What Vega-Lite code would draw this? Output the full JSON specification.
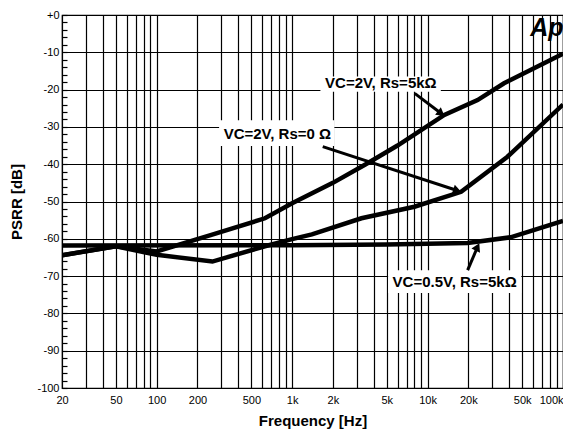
{
  "$schema": "https://vega.github.io/schema/vega-lite/v6.json",
  "width": 501,
  "height": 373,
  "autosize": {"type": "none"},
  "padding": {"left": 62, "top": 15, "right": 0, "bottom": 43},
  "background": "white",
  "config": {
    "font": "Liberation Sans",
    "view": {"stroke": "black", "strokeWidth": 1.2}
  },
  "datasets": {
    "curves": [
      {"series": "VC=2V, Rs=5kΩ", "freq": 20, "db": -64.4},
      {"series": "VC=2V, Rs=5kΩ", "freq": 50, "db": -62},
      {"series": "VC=2V, Rs=5kΩ", "freq": 100, "db": -63.4},
      {"series": "VC=2V, Rs=5kΩ", "freq": 250, "db": -59},
      {"series": "VC=2V, Rs=5kΩ", "freq": 630, "db": -54.5},
      {"series": "VC=2V, Rs=5kΩ", "freq": 1000, "db": -50.5},
      {"series": "VC=2V, Rs=5kΩ", "freq": 2000, "db": -45},
      {"series": "VC=2V, Rs=5kΩ", "freq": 3500, "db": -40},
      {"series": "VC=2V, Rs=5kΩ", "freq": 6000, "db": -35},
      {"series": "VC=2V, Rs=5kΩ", "freq": 13300, "db": -26.8},
      {"series": "VC=2V, Rs=5kΩ", "freq": 23400, "db": -22.8},
      {"series": "VC=2V, Rs=5kΩ", "freq": 36700, "db": -18.3},
      {"series": "VC=2V, Rs=5kΩ", "freq": 100000, "db": -10.4},
      {"series": "VC=2V, Rs=0 Ω", "freq": 20, "db": -64.4},
      {"series": "VC=2V, Rs=0 Ω", "freq": 50, "db": -62},
      {"series": "VC=2V, Rs=0 Ω", "freq": 100, "db": -64.3},
      {"series": "VC=2V, Rs=0 Ω", "freq": 258, "db": -66.1},
      {"series": "VC=2V, Rs=0 Ω", "freq": 630, "db": -62},
      {"series": "VC=2V, Rs=0 Ω", "freq": 1000, "db": -60.1},
      {"series": "VC=2V, Rs=0 Ω", "freq": 1400, "db": -58.8},
      {"series": "VC=2V, Rs=0 Ω", "freq": 3250, "db": -54.5},
      {"series": "VC=2V, Rs=0 Ω", "freq": 8000, "db": -51.4},
      {"series": "VC=2V, Rs=0 Ω", "freq": 17700, "db": -47.4},
      {"series": "VC=2V, Rs=0 Ω", "freq": 38900, "db": -38},
      {"series": "VC=2V, Rs=0 Ω", "freq": 100000, "db": -24},
      {"series": "VC=0.5V, Rs=5kΩ", "freq": 20, "db": -61.8},
      {"series": "VC=0.5V, Rs=5kΩ", "freq": 1000, "db": -61.7},
      {"series": "VC=0.5V, Rs=5kΩ", "freq": 5000, "db": -61.5},
      {"series": "VC=0.5V, Rs=5kΩ", "freq": 19700, "db": -61.1},
      {"series": "VC=0.5V, Rs=5kΩ", "freq": 41000, "db": -59.6},
      {"series": "VC=0.5V, Rs=5kΩ", "freq": 100000, "db": -55.2}
    ],
    "labels": [
      {"label": "VC=2V, Rs=5kΩ", "f": 4518, "db": -18.3, "f1": 1618, "f2": 12530, "db1": -16.5, "db2": -20.6},
      {"label": "VC=2V, Rs=0 Ω", "f": 778, "db": -32.0, "f1": 289, "f2": 2051, "db1": -28.2, "db2": -35.1},
      {"label": "VC=0.5V, Rs=5kΩ", "f": 15850, "db": -71.5, "f1": 5115, "f2": 49200, "db1": -68.4, "db2": -74.5}
    ],
    "arrows": [
      {"id": 1, "fs": 8035, "dbs": -21.0, "fe": 12620, "dbe": -26.4},
      {"id": 2, "fs": 1683, "dbs": -35.3, "fe": 16560, "dbe": -47.05},
      {"id": 3, "fs": 19770, "dbs": -68.4, "fe": 23380, "dbe": -62.2}
    ],
    "logo": [
      {"text": "Ap", "f": 57300, "db": -5.6}
    ]
  },
  "layer": [
    {
      "data": {"name": "curves"},
      "mark": {"type": "line", "color": "black", "strokeWidth": 4.5, "strokeJoin": "miter", "clip": true},
      "encoding": {
        "x": {
          "field": "freq", "type": "quantitative", "title": "Frequency [Hz]",
          "scale": {"type": "log", "domain": [20, 100000], "nice": false},
          "axis": {
            "values": [20, 30, 40, 50, 60, 70, 80, 90, 100, 200, 300, 400, 500, 600, 700, 800, 900, 1000, 2000, 3000, 4000, 5000, 6000, 7000, 8000, 9000, 10000, 20000, 30000, 40000, 50000, 60000, 70000, 80000, 90000, 100000],
            "tickCount": 500,
            "labelExpr": "indexof([20,50,100,200,500,1000,2000,5000,10000,20000,50000,100000], datum.value) >= 0 ? (datum.value >= 1000 ? (datum.value/1000) + 'k' : '' + datum.value) : ''",
            "labelAlign": {"condition": {"test": "datum.value >= 100000", "value": "right"}, "value": "center"},
            "labelOverlap": false,
            "labelFlush": false,
            "labelFontSize": 11,
            "labelColor": "black",
            "labelPadding": 6,
            "tickSize": 0,
            "ticks": false,
            "domain": false,
            "grid": true,
            "gridColor": "black",
            "gridOpacity": 1,
            "gridWidth": 1.2,
            "titleFontSize": 15,
            "titleFontWeight": "bold",
            "titleColor": "black",
            "titlePadding": 8
          }
        },
        "y": {
          "field": "db", "type": "quantitative", "title": "PSRR [dB]",
          "scale": {"domain": [-100, 0], "nice": false},
          "axis": {
            "values": [-100, -98, -96, -94, -92, -90, -88, -86, -84, -82, -80, -78, -76, -74, -72, -70, -68, -66, -64, -62, -60, -58, -56, -54, -52, -50, -48, -46, -44, -42, -40, -38, -36, -34, -32, -30, -28, -26, -24, -22, -20, -18, -16, -14, -12, -10, -8, -6, -4, -2, 0],
            "tickCount": 500,
            "labelExpr": "datum.value % 10 == 0 ? (datum.value == 0 ? '+0' : '' + datum.value) : ''",
            "labelOverlap": false,
            "labelFlush": false,
            "labelFontSize": 11,
            "labelColor": "black",
            "labelPadding": 8,
            "tickSize": -5,
            "tickColor": "black",
            "tickWidth": 1.2,
            "domain": false,
            "grid": true,
            "gridColor": "black",
            "gridOpacity": {"condition": {"test": "datum.value % 10 == 0", "value": 1}, "value": 0},
            "gridWidth": 1.2,
            "titleFontSize": 15,
            "titleFontWeight": "bold",
            "titleColor": "black",
            "titlePadding": 12
          }
        },
        "detail": {"field": "series", "type": "nominal"}
      }
    },
    {
      "data": {"name": "labels"},
      "mark": {"type": "rect", "fill": "white", "stroke": null},
      "encoding": {
        "x": {"field": "f1", "type": "quantitative", "title": "Frequency [Hz]"},
        "x2": {"field": "f2"},
        "y": {"field": "db1", "type": "quantitative", "title": "PSRR [dB]"},
        "y2": {"field": "db2"}
      }
    },
    {
      "data": {"name": "labels"},
      "mark": {"type": "text", "fontSize": 15, "fontWeight": "bold", "color": "black", "align": "center", "baseline": "middle"},
      "encoding": {
        "x": {"field": "f", "type": "quantitative", "title": "Frequency [Hz]"},
        "y": {"field": "db", "type": "quantitative", "title": "PSRR [dB]"},
        "text": {"field": "label"}
      }
    },
    {
      "data": {"name": "arrows"},
      "mark": {"type": "rule", "color": "black", "strokeWidth": 3},
      "encoding": {
        "x": {"field": "fs", "type": "quantitative", "title": "Frequency [Hz]"},
        "x2": {"field": "fe"},
        "y": {"field": "dbs", "type": "quantitative", "title": "PSRR [dB]"},
        "y2": {"field": "dbe"}
      }
    },
    {
      "data": {"name": "arrows"},
      "transform": [{"filter": "datum.id == 1"}],
      "mark": {"type": "point", "shape": "triangle-right", "filled": true, "color": "black", "opacity": 1, "size": 90, "angle": 37},
      "encoding": {
        "x": {"field": "fe", "type": "quantitative", "title": "Frequency [Hz]"},
        "y": {"field": "dbe", "type": "quantitative", "title": "PSRR [dB]"}
      }
    },
    {
      "data": {"name": "arrows"},
      "transform": [{"filter": "datum.id == 2"}],
      "mark": {"type": "point", "shape": "triangle-right", "filled": true, "color": "black", "opacity": 1, "size": 90, "angle": 18},
      "encoding": {
        "x": {"field": "fe", "type": "quantitative", "title": "Frequency [Hz]"},
        "y": {"field": "dbe", "type": "quantitative", "title": "PSRR [dB]"}
      }
    },
    {
      "data": {"name": "arrows"},
      "transform": [{"filter": "datum.id == 3"}],
      "mark": {"type": "point", "shape": "triangle-right", "filled": true, "color": "black", "opacity": 1, "size": 90, "angle": 296},
      "encoding": {
        "x": {"field": "fe", "type": "quantitative", "title": "Frequency [Hz]"},
        "y": {"field": "dbe", "type": "quantitative", "title": "PSRR [dB]"}
      }
    },
    {
      "data": {"name": "logo"},
      "mark": {"type": "text", "fontSize": 25, "fontWeight": "bold", "fontStyle": "italic", "color": "black", "align": "left", "baseline": "alphabetic"},
      "encoding": {
        "x": {"field": "f", "type": "quantitative", "title": "Frequency [Hz]"},
        "y": {"field": "db", "type": "quantitative", "title": "PSRR [dB]"},
        "text": {"field": "text"}
      }
    }
  ]
}
